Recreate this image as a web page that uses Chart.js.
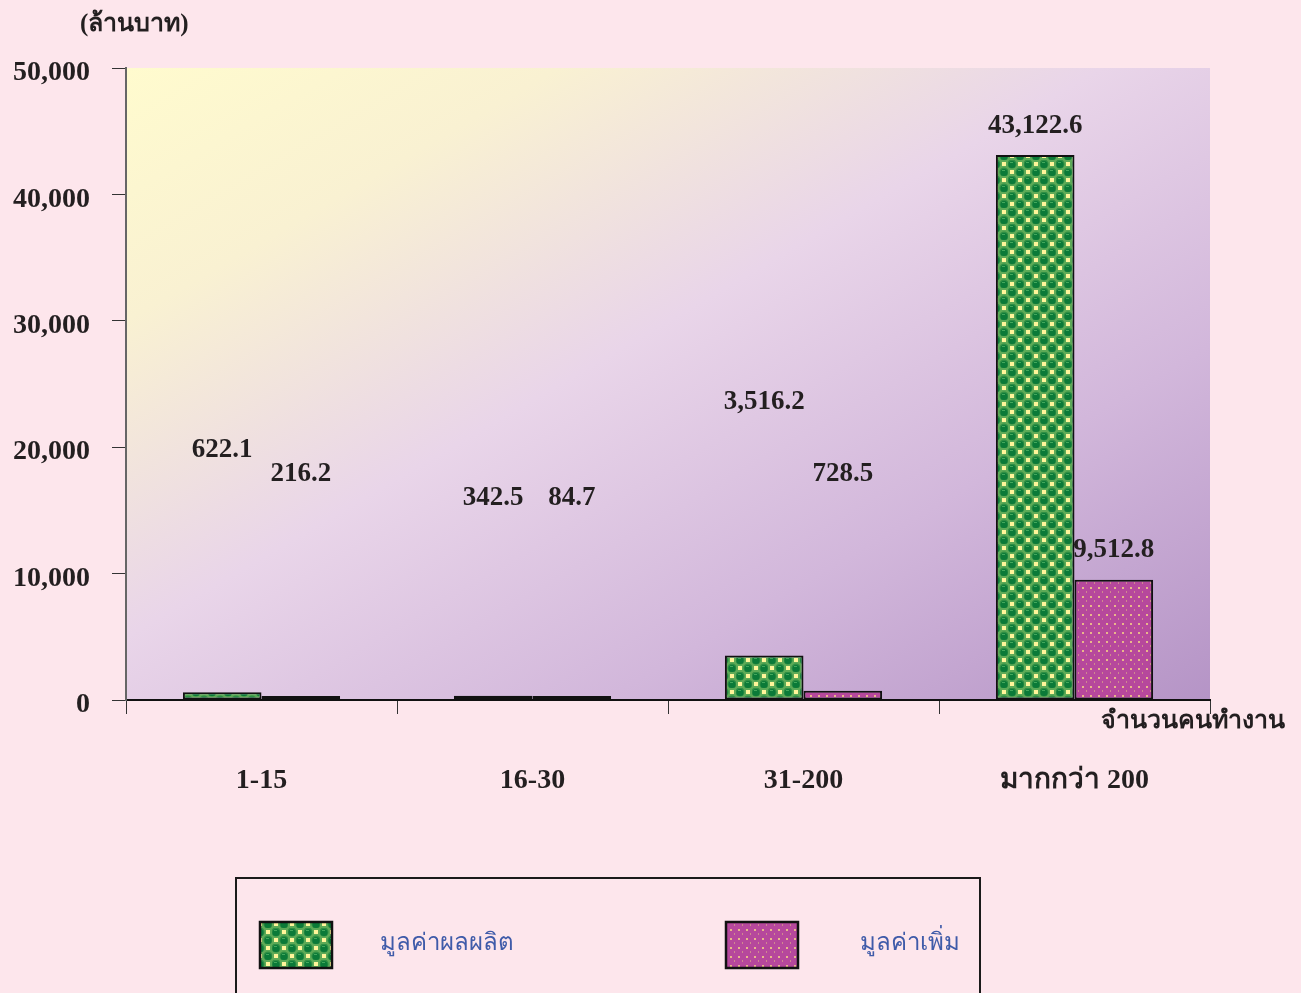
<!DOCTYPE html>
<html>
<head>
<meta charset="utf-8">
<script src="https://cdn.jsdelivr.net/npm/chart.js@4.4.1/dist/chart.umd.min.js"></script>
<style>
  html, body { margin: 0; padding: 0; background: #FDE6EC; }
  #wrap { width: 1301px; height: 993px; position: relative; }
</style>
</head>
<body>
<div id="wrap"><canvas id="chart" width="1301" height="993"></canvas></div>
<script>
// Data
const categories = ["1-15", "16-30", "31-200", "มากกว่า 200"];
const outputValues = [622.1, 342.5, 3516.2, 43122.6];
const addedValues = [216.2, 84.7, 728.5, 9512.8];
const seriesNames = ["มูลค่าผลผลิต", "มูลค่าเพิ่ม"];
const yTicks = [0, 10000, 20000, 30000, 40000, 50000];

// where the value labels sit (in axis units), they float above the bars in the original
const outputLabelAt = [19800, 16000, 23600, 45400];
const addedLabelAt = [17900, 16000, 17900, 11900];

const unitTitle = "(ล้านบาท)";
const xTitle = "จำนวนคนทำงาน";

const numFont = "bold 27px 'Liberation Serif', 'DejaVu Serif', serif";
const thaiBold = "bold 25px 'Liberation Serif', 'Noto Sans', 'DejaVu Sans', sans-serif";
const textColor = "#231F20";

// ---------- fill patterns ----------
function greenPattern() {
  const c = document.createElement("canvas");
  c.width = 16; c.height = 16;
  const g = c.getContext("2d");
  g.fillStyle = "#5DAA57";
  g.fillRect(0, 0, 16, 16);
  // yellow squares on the off cells
  g.fillStyle = "#FFF59A";
  g.fillRect(10, 2, 4, 4);
  g.fillRect(2, 10, 4, 4);
  // green blobs
  const blob = (x, y) => {
    g.fillStyle = "#2F8F45";
    g.beginPath(); g.arc(x, y, 4.6, 0, Math.PI * 2); g.fill();
    g.fillStyle = "#0B7A38";
    g.beginPath(); g.arc(x, y + 0.4, 3.5, 0, Math.PI * 2); g.fill();
    g.fillStyle = "#43A85C";
    g.fillRect(x - 2, y - 2, 3, 1);
  };
  blob(4, 4);
  blob(12, 12);
  return g.createPattern(c, "repeat");
}

function pinkPattern() {
  const c = document.createElement("canvas");
  c.width = 8; c.height = 9;
  const g = c.getContext("2d");
  g.fillStyle = "#B6489C";
  g.fillRect(0, 0, 8, 9);
  g.fillStyle = "#E9B78A";
  g.fillRect(2, 2, 2, 2);
  g.fillStyle = "#D08A8E";
  g.fillRect(6, 6, 1, 2);
  return g.createPattern(c, "repeat");
}

// ---------- plugins ----------
const plotBackground = {
  id: "plotBackground",
  beforeDraw(chart) {
    const { ctx, chartArea: a } = chart;
    ctx.save();
    ctx.fillStyle = "#FDE6EC";
    ctx.fillRect(0, 0, chart.width, chart.height);
    // diagonal gradient in normalised box space
    ctx.translate(a.left, a.top);
    ctx.scale(a.right - a.left, a.bottom - a.top);
    const grad = ctx.createLinearGradient(0, 0, 1, 1);
    grad.addColorStop(0, "#FFFBCE");
    grad.addColorStop(0.2, "#F9F1D2");
    grad.addColorStop(0.45, "#E9D5E9");
    grad.addColorStop(0.72, "#D2B7DB");
    grad.addColorStop(1, "#B594C6");
    ctx.fillStyle = grad;
    ctx.fillRect(0, 0, 1, 1);
    ctx.restore();
  }
};

const valueLabels = {
  id: "valueLabels",
  afterDatasetsDraw(chart) {
    const { ctx } = chart;
    const y = chart.scales.y;
    const spots = [outputLabelAt, addedLabelAt];
    ctx.save();
    ctx.font = numFont;
    ctx.fillStyle = textColor;
    ctx.textAlign = "center";
    ctx.textBaseline = "middle";
    chart.data.datasets.forEach((ds, i) => {
      chart.getDatasetMeta(i).data.forEach((bar, j) => {
        const txt = ds.data[j].toLocaleString("en-US", { minimumFractionDigits: 1 });
        ctx.fillText(txt, bar.x, y.getPixelForValue(spots[i][j]));
      });
    });
    ctx.restore();
  }
};

const extras = {
  id: "extras",
  afterDraw(chart) {
    const { ctx } = chart;
    ctx.save();
    ctx.fillStyle = textColor;
    ctx.font = thaiBold;
    ctx.textBaseline = "middle";
    ctx.textAlign = "left";
    ctx.fillText(unitTitle, 80, 25);
    ctx.textAlign = "right";
    ctx.fillText(xTitle, 1285, 722);

    // legend box
    ctx.strokeStyle = "#1a1a1a";
    ctx.lineWidth = 2;
    ctx.strokeRect(236, 878, 744, 130);
    const items = [
      { x: 260, tx: 380 },
      { x: 726, tx: 860 }
    ];
    chart.data.datasets.forEach((ds, i) => {
      const it = items[i];
      ctx.fillStyle = ds.backgroundColor;
      ctx.fillRect(it.x, 922, 72, 46);
      ctx.lineWidth = 2.5;
      ctx.strokeStyle = "#111";
      ctx.strokeRect(it.x, 922, 72, 46);
      ctx.fillStyle = "#3F5BA9";
      ctx.font = "24px 'Noto Sans', 'DejaVu Sans', sans-serif";
      ctx.textAlign = "left";
      ctx.fillText(ds.label, it.tx, 943);
    });
    ctx.restore();
  }
};

const ctx = document.getElementById("chart").getContext("2d");
new Chart(ctx, {
  type: "bar",
  data: {
    labels: categories,
    datasets: [
      {
        label: seriesNames[0],
        data: outputValues,
        backgroundColor: greenPattern(),
        borderColor: "#111",
        borderWidth: 2,
        borderSkipped: false,
        minBarLength: 4
      },
      {
        label: seriesNames[1],
        data: addedValues,
        backgroundColor: pinkPattern(),
        borderColor: "#111",
        borderWidth: 2,
        borderSkipped: false,
        minBarLength: 4
      }
    ]
  },
  options: {
    responsive: false,
    animation: false,
    layout: { padding: { top: 68, right: 91, left: 0, bottom: 0 } },
    datasets: { bar: { categoryPercentage: 0.58, barPercentage: 1.0 } },
    plugins: {
      legend: { display: false },
      tooltip: { enabled: false }
    },
    scales: {
      x: {
        afterFit(s) { s.height = 293; },
        grid: { offset: true, drawOnChartArea: false, drawTicks: true, tickLength: 14, color: "#333", lineWidth: 1 },
        border: { display: true, color: "#111", width: 2 },
        ticks: {
          padding: 50,
          color: textColor,
          font: { family: "'Liberation Serif', 'Noto Sans', 'DejaVu Sans', serif", size: 28, weight: "bold" }
        }
      },
      y: {
        min: 0,
        max: 50000,
        afterFit(s) { s.width = 126; },
        afterBuildTicks(s) { s.ticks = yTicks.map(v => ({ value: v })); },
        grid: { drawOnChartArea: false, drawTicks: true, tickLength: 14, color: "#333", lineWidth: 1 },
        border: { display: true, color: "#666", width: 2 },
        ticks: {
          padding: 22,
          labelOffset: 5,
          color: textColor,
          font: { family: "'Liberation Serif', 'DejaVu Serif', serif", size: 28, weight: "bold" },
          callback: v => v.toLocaleString("en-US")
        }
      }
    }
  },
  plugins: [plotBackground, valueLabels, extras]
});
</script>
</body>
</html>
